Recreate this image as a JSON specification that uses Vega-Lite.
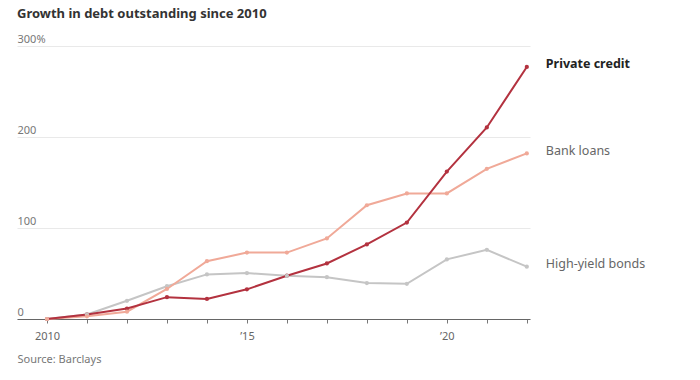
{
  "$schema": "https://vega.github.io/schema/vega-lite/v6.json",
  "autosize": "none",
  "width": 513,
  "height": 273,
  "padding": {"left": 17, "top": 46, "right": 170, "bottom": 61},
  "background": "white",
  "config": {
    "view": {"stroke": null},
    "font": "Noto Sans"
  },
  "title": {
    "text": "Growth in debt outstanding since 2010",
    "anchor": "start",
    "frame": "group",
    "fontSize": 13,
    "fontWeight": "bold",
    "color": "#333333",
    "font": "Noto Sans",
    "offset": 12
  },
  "data": {
    "values": [
      {"year": 2010, "series": "High-yield bonds", "value": 0},
      {"year": 2011, "series": "High-yield bonds", "value": 5},
      {"year": 2012, "series": "High-yield bonds", "value": 20},
      {"year": 2013, "series": "High-yield bonds", "value": 36},
      {"year": 2014, "series": "High-yield bonds", "value": 49},
      {"year": 2015, "series": "High-yield bonds", "value": 50.5},
      {"year": 2016, "series": "High-yield bonds", "value": 47.5},
      {"year": 2017, "series": "High-yield bonds", "value": 46},
      {"year": 2018, "series": "High-yield bonds", "value": 39.5},
      {"year": 2019, "series": "High-yield bonds", "value": 38.7},
      {"year": 2020, "series": "High-yield bonds", "value": 65.5},
      {"year": 2021, "series": "High-yield bonds", "value": 76},
      {"year": 2022, "series": "High-yield bonds", "value": 57.5},
      {"year": 2010, "series": "Bank loans", "value": 0},
      {"year": 2011, "series": "Bank loans", "value": 3},
      {"year": 2012, "series": "Bank loans", "value": 8},
      {"year": 2013, "series": "Bank loans", "value": 33},
      {"year": 2014, "series": "Bank loans", "value": 63.5},
      {"year": 2015, "series": "Bank loans", "value": 73},
      {"year": 2016, "series": "Bank loans", "value": 73},
      {"year": 2017, "series": "Bank loans", "value": 88.5},
      {"year": 2018, "series": "Bank loans", "value": 125},
      {"year": 2019, "series": "Bank loans", "value": 138},
      {"year": 2020, "series": "Bank loans", "value": 138},
      {"year": 2021, "series": "Bank loans", "value": 165},
      {"year": 2022, "series": "Bank loans", "value": 182},
      {"year": 2010, "series": "Private credit", "value": 0},
      {"year": 2011, "series": "Private credit", "value": 5},
      {"year": 2012, "series": "Private credit", "value": 11.5},
      {"year": 2013, "series": "Private credit", "value": 24},
      {"year": 2014, "series": "Private credit", "value": 22},
      {"year": 2015, "series": "Private credit", "value": 32.6},
      {"year": 2016, "series": "Private credit", "value": 47.6},
      {"year": 2017, "series": "Private credit", "value": 61},
      {"year": 2018, "series": "Private credit", "value": 82},
      {"year": 2019, "series": "Private credit", "value": 106},
      {"year": 2020, "series": "Private credit", "value": 162},
      {"year": 2021, "series": "Private credit", "value": 210.5},
      {"year": 2022, "series": "Private credit", "value": 277}
    ]
  },
  "encoding": {
    "x": {
      "field": "year",
      "type": "quantitative",
      "scale": {"domain": [2009.25, 2022.08], "nice": false, "zero": false},
      "axis": {
        "values": [2010, 2011, 2012, 2013, 2014, 2015, 2016, 2017, 2018, 2019, 2020, 2021, 2022],
        "labelExpr": "datum.value == 2010 ? '2010' : (datum.value % 5 == 0 ? '\u2019' + slice(toString(datum.value), 2) : '')",
        "grid": false,
        "domain": true,
        "domainColor": "#666666",
        "domainWidth": 1,
        "ticks": true,
        "tickSize": 4,
        "tickColor": "#777777",
        "labelPadding": 7,
        "labelFontSize": 11,
        "labelColor": "#666666",
        "labelFont": "Noto Sans",
        "labelFlush": false,
        "title": "Source: Barclays",
        "titleAnchor": "start",
        "titleAlign": "left",
        "titleBaseline": "top",
        "titleFontSize": 11,
        "titleFontWeight": "normal",
        "titleColor": "#777777",
        "titleFont": "Noto Sans",
        "titlePadding": 12
      }
    },
    "y": {
      "field": "value",
      "type": "quantitative",
      "scale": {"domain": [0, 300], "nice": false},
      "axis": {
        "values": [0, 100, 200, 300],
        "labelExpr": "datum.value == 300 ? '300%' : (datum.value == 0 ? '\u2007\u20070' : datum.label)",
        "title": null,
        "domain": false,
        "ticks": false,
        "tickSize": 0,
        "labelAlign": "left",
        "labelBaseline": "bottom",
        "labelPadding": 0,
        "labelOffset": -2,
        "labelFontSize": 11,
        "labelColor": "#777777",
        "labelFont": "Noto Sans",
        "grid": true,
        "gridColor": "#e9e9e9",
        "gridWidth": 1
      }
    },
    "color": {
      "field": "series",
      "type": "nominal",
      "scale": {
        "domain": ["High-yield bonds", "Bank loans", "Private credit"],
        "range": ["#c5c5c5", "#f0a998", "#b3323f"]
      },
      "legend": null
    },
    "order": {"field": "series", "sort": "descending"}
  },
  "layer": [
    {
      "mark": {"type": "line", "strokeWidth": 2},
      "encoding": {
        "detail": {"field": "series"}
      }
    },
    {
      "mark": {"type": "circle", "size": 18, "opacity": 1}
    },
    {
      "transform": [{"filter": "datum.year == 2022 && datum.series != 'Private credit'"}],
      "mark": {"type": "text", "align": "left", "baseline": "middle", "dx": 19, "dy": -2.5, "fontSize": 12.5, "font": "Noto Sans", "fontWeight": "normal"},
      "encoding": {
        "text": {"field": "series"},
        "color": {"value": "#666666"}
      }
    },
    {
      "transform": [{"filter": "datum.year == 2022 && datum.series == 'Private credit'"}],
      "mark": {"type": "text", "align": "left", "baseline": "middle", "dx": 19, "dy": -2.5, "fontSize": 12.5, "font": "Noto Sans", "fontWeight": "bold"},
      "encoding": {
        "text": {"field": "series"},
        "color": {"value": "#222222"}
      }
    }
  ]
}
